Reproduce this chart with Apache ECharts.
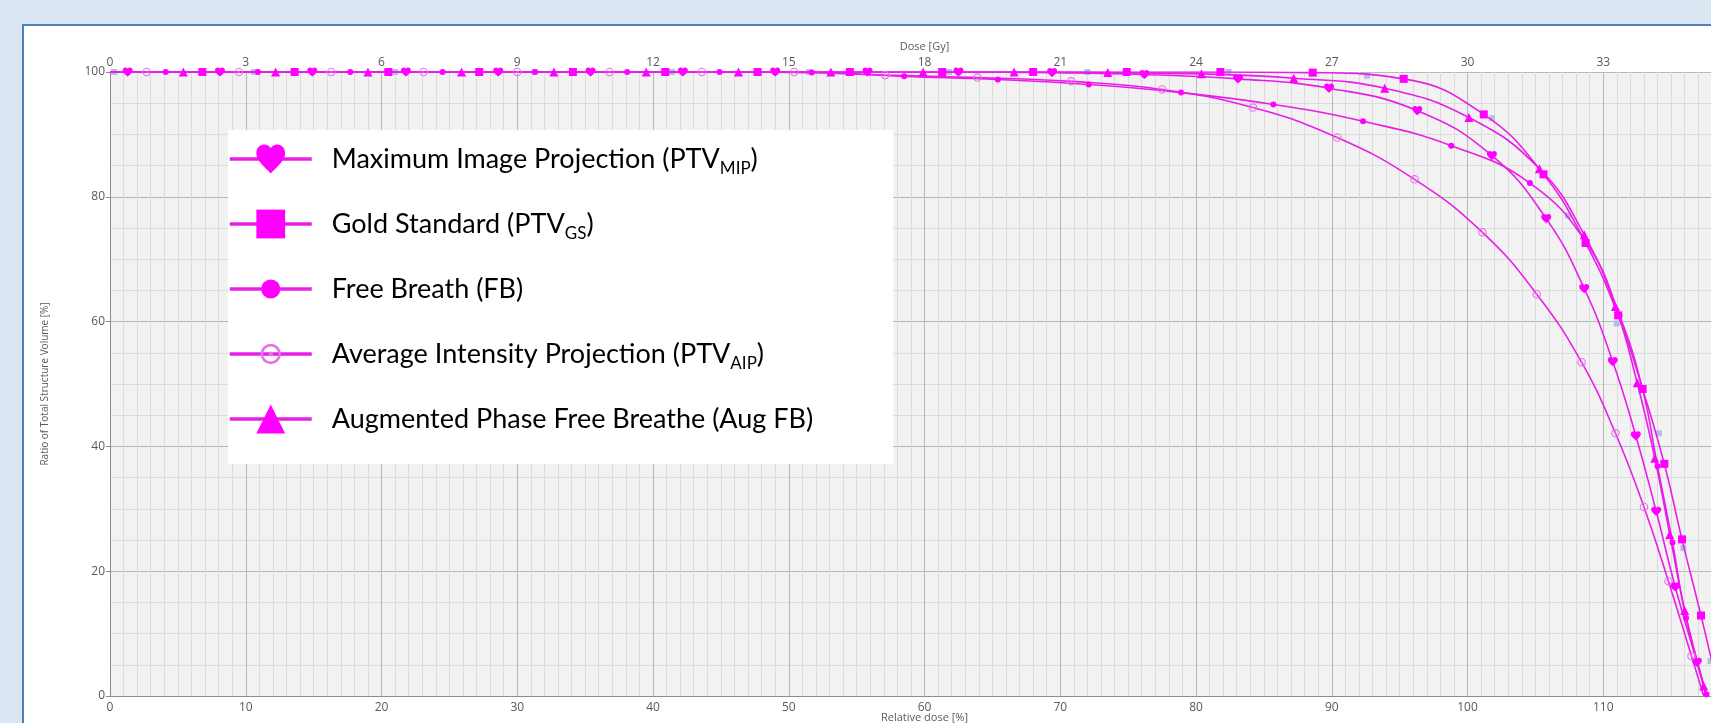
<!DOCTYPE html>
<html>
<head>
<meta charset="utf-8">
<title>DVH</title>
<script src="https://cdn.jsdelivr.net/npm/echarts@6/dist/echarts.min.js"></script>
<style>
  html, body { margin: 0; padding: 0; width: 1711px; height: 723px; overflow: hidden; background: #dce6f2; }
  #panel { position: absolute; left: 22px; top: 24px; width: 1720px; height: 720px; background: #fff; border: 2px solid #4f81bd; }
  #chart { position: absolute; left: 0; top: 0; width: 1711px; height: 723px; }
</style>
</head>
<body>
<div id="panel"></div>
<div id="chart"></div>
<script>
// relative dose [%] and volume [%] read at each marker of the reference
var mipDose = [1.3, 8.1, 14.9, 21.8, 28.6, 35.4, 42.2, 49.0, 55.8, 62.5, 69.4, 76.2, 83.1, 89.8, 96.3, 101.8, 105.8, 108.6, 110.7, 112.4, 113.9, 115.3, 116.9];
var mipVol  = [100, 100, 100, 100, 100, 100, 100, 100, 100, 100, 99.9, 99.6, 98.9, 97.4, 93.8, 86.6, 76.5, 65.3, 53.6, 41.7, 29.6, 17.5, 5.4];

var gsDose = [6.8, 13.6, 20.5, 27.2, 34.1, 40.9, 47.7, 54.5, 61.3, 68.0, 74.9, 81.8, 88.6, 95.3, 101.2, 105.6, 108.7, 111.1, 112.9, 114.5, 115.8, 117.2];
var gsVol  = [100, 100, 100, 100, 100, 100, 100, 100, 100, 100, 100, 100, 99.9, 98.9, 93.2, 83.6, 72.6, 61.0, 49.2, 37.2, 25.1, 12.9];

var fbDose = [4.1, 10.9, 17.7, 24.5, 31.3, 38.1, 44.9, 51.7, 58.5, 65.4, 72.1, 78.9, 85.7, 92.3, 98.8, 104.6, 108.8, 111.2, 112.9, 114.0, 115.1, 116.1, 117.6];
var fbVol  = [100, 100, 100, 100, 100, 100, 100, 99.9, 99.3, 98.8, 98.0, 96.7, 94.8, 92.1, 88.2, 82.2, 72.5, 61.0, 49.1, 36.8, 24.6, 12.5, 0.3];

var aipDose = [2.7, 9.5, 16.3, 23.1, 30.0, 36.8, 43.6, 50.4, 57.1, 63.9, 70.8, 77.5, 84.2, 90.4, 96.1, 101.1, 105.1, 108.4, 110.9, 113.0, 114.8, 116.5];
var aipVol  = [100, 100, 100, 100, 100, 100, 100, 100, 99.5, 99.1, 98.5, 97.2, 94.3, 89.5, 82.8, 74.3, 64.4, 53.5, 42.1, 30.3, 18.4, 6.4];

var augDose = [5.4, 12.2, 19.0, 25.9, 32.7, 39.5, 46.3, 53.1, 59.9, 66.6, 73.5, 80.4, 87.2, 93.9, 100.1, 105.3, 108.6, 110.9, 112.5, 113.8, 114.9, 116.0, 117.4];
var augVol  = [100, 100, 100, 100, 100, 100, 100, 100, 100, 100, 99.9, 99.7, 99.0, 97.4, 92.7, 84.5, 73.9, 62.4, 50.2, 38.1, 25.9, 13.7, 1.6];

// faint extra structure (light blue marks, not in legend)
var refDose = [0.3, 10.6, 21.0, 31.3, 41.4, 51.5, 61.8, 72.0, 82.4, 92.6, 101.8, 107.4, 111.0, 114.1, 115.9, 117.9];
var refVol  = [100, 100, 100, 100, 100, 100, 100, 100, 100, 99.4, 92.6, 77.0, 59.7, 42.1, 23.7, 5.6];

// dose where each curve reaches 0 % (MIP, GS, FB, AIP, AugFB, ref)
var endDose = [117.6, 118.6, 117.7, 117.4, 117.6, 118.6];

var seriesNames = ['Maximum Image Projection', 'Gold Standard', 'Free Breath (FB)', 'Average Intensity Projection', 'Augmented Phase Free Breathe (Aug FB)'];
var seriesSubs = ['MIP', 'GS', '', 'AIP', ''];

var relTicks = { min: 0, max: 120, interval: 10 };
var doseTicks = { min: 0, max: 36, interval: 3 };

var HEART = 'path://M12,21.4 L10.6,20.1 C5.4,15.4 2,12.3 2,8.5 C2,5.4 4.4,3 7.5,3 C9.2,3 10.9,3.8 12,5.1 C13.1,3.8 14.8,3 16.5,3 C19.6,3 22,5.4 22,8.5 C22,12.3 18.6,15.4 13.4,20.1 Z';
var DOT = 'path://M0,0 M24,24 M20,12 A8,8 0 1,1 4,12 A8,8 0 1,1 20,12 Z';
var RING = 'path://M0,0 M24,24 M20.5,12 A8.5,8.5 0 1,1 3.5,12 A8.5,8.5 0 1,1 20.5,12 Z M18.3,12 A6.3,6.3 0 1,0 5.7,12 A6.3,6.3 0 1,0 18.3,12 Z M14,12 A2,2 0 1,1 10,12 A2,2 0 1,1 14,12 Z';

var LINE = '#e81ee8';
var MARK = '#ff00ff';

function build(xs, ys, endX, startFlat) {
  var d = [];
  if (startFlat) d.push({ value: [0, 100], symbol: 'none' });
  for (var i = 0; i < xs.length; i++) d.push([xs[i], ys[i]]);
  d.push({ value: [endX, 0], symbol: 'none' });
  return d;
}

function lineSeries(name, data, symbol, size, color, keep) {
  return {
    name: name,
    type: 'line',
    data: data,
    symbol: symbol,
    symbolSize: size,
    symbolKeepAspect: !!keep,
    smooth: 0.45,
    z: 3,
    lineStyle: { color: LINE, width: 1.6 },
    itemStyle: { color: color },
    emphasis: { disabled: true },
    animation: false
  };
}

var axisText = { color: '#595959', fontFamily: 'Open Sans', fontSize: 12 };

var chart = echarts.init(document.getElementById('chart'));
chart.setOption({
  backgroundColor: 'transparent',
  grid: {
    left: 110, top: 72, width: 1629, height: 624,
    outerBoundsMode: 'none',
    show: true, backgroundColor: '#f2f2f2', borderWidth: 0
  },
  legend: {
    data: seriesNames,
    orient: 'vertical',
    left: 228, top: 130,
    padding: [11, 80, 27, 0],
    backgroundColor: '#fff',
    itemWidth: 82, itemHeight: 36, itemGap: 29,
    selectedMode: false,
    lineStyle: { width: 3.5 },
    formatter: function (name) {
      var i = seriesNames.indexOf(name);
      var s = seriesSubs[i];
      return '{g| }' + (s ? name + ' (PTV{s|' + s + '})' : name);
    },
    textStyle: {
      fontFamily: 'Lato', fontSize: 27, color: '#000', lineHeight: 36,
      rich: {
        g: { width: 15 },
        s: { fontFamily: 'Lato', fontSize: 17, color: '#000', lineHeight: 17, verticalAlign: 'bottom' }
      }
    }
  },
  xAxis: [{
    type: 'value', position: 'bottom',
    min: relTicks.min, max: relTicks.max, interval: relTicks.interval,
    name: 'Relative dose [%]', nameLocation: 'middle', nameGap: 16, nameMoveOverlap: false,
    nameTextStyle: { color: '#595959', fontFamily: 'Open Sans', fontSize: 11 },
    axisLine: { lineStyle: { color: '#8c8c8c' } },
    axisTick: { show: false },
    axisLabel: Object.assign({ margin: 6 }, axisText),
    splitLine: { lineStyle: { color: '#b8b8b8' } },
    minorTick: { show: false, splitNumber: 10 },
    minorSplitLine: { show: true, lineStyle: { color: '#dcdcdc' } }
  }, {
    type: 'value', position: 'top',
    min: doseTicks.min, max: doseTicks.max, interval: doseTicks.interval,
    name: 'Dose [Gy]', nameLocation: 'middle', nameGap: 18,
    nameTextStyle: { color: '#595959', fontFamily: 'Open Sans', fontSize: 11 },
    axisLine: { show: false },
    axisTick: { show: false },
    axisLabel: Object.assign({ margin: 3 }, axisText),
    splitLine: { show: false }
  }],
  yAxis: {
    type: 'value', min: 0, max: 100, interval: 20,
    name: 'Ratio of Total Structure Volume [%]', nameLocation: 'middle', nameGap: 60,
    nameTextStyle: { color: '#595959', fontFamily: 'Open Sans', fontSize: 10 },
    axisLine: { show: true, lineStyle: { color: '#8c8c8c' } },
    axisTick: { show: true, length: 4, lineStyle: { color: '#8c8c8c' } },
    axisLabel: Object.assign({ margin: 5 }, axisText),
    splitLine: { lineStyle: { color: '#b8b8b8' } },
    minorTick: { show: false, splitNumber: 4 },
    minorSplitLine: { show: true, lineStyle: { color: '#dcdcdc' } }
  },
  series: [
    {
      name: 'ref', type: 'line', data: build(refDose, refVol, endDose[5], false),
      symbol: 'rect', symbolSize: 6, smooth: 0.45, z: 1,
      lineStyle: { opacity: 0 }, itemStyle: { color: '#b4bde8' },
      emphasis: { disabled: true }, animation: false
    },
    lineSeries(seriesNames[0], build(mipDose, mipVol, endDose[0], true), HEART, 10, MARK, true),
    lineSeries(seriesNames[1], build(gsDose, gsVol, endDose[1], true), 'rect', 8, MARK),
    lineSeries(seriesNames[2], build(fbDose, fbVol, endDose[2], true), DOT, 9, MARK),
    lineSeries(seriesNames[3], build(aipDose, aipVol, endDose[3], true), RING, 12, '#ea6fea'),
    lineSeries(seriesNames[4], build(augDose, augVol, endDose[4], true), 'triangle', 9, MARK)
  ]
});
</script>
</body>
</html>
